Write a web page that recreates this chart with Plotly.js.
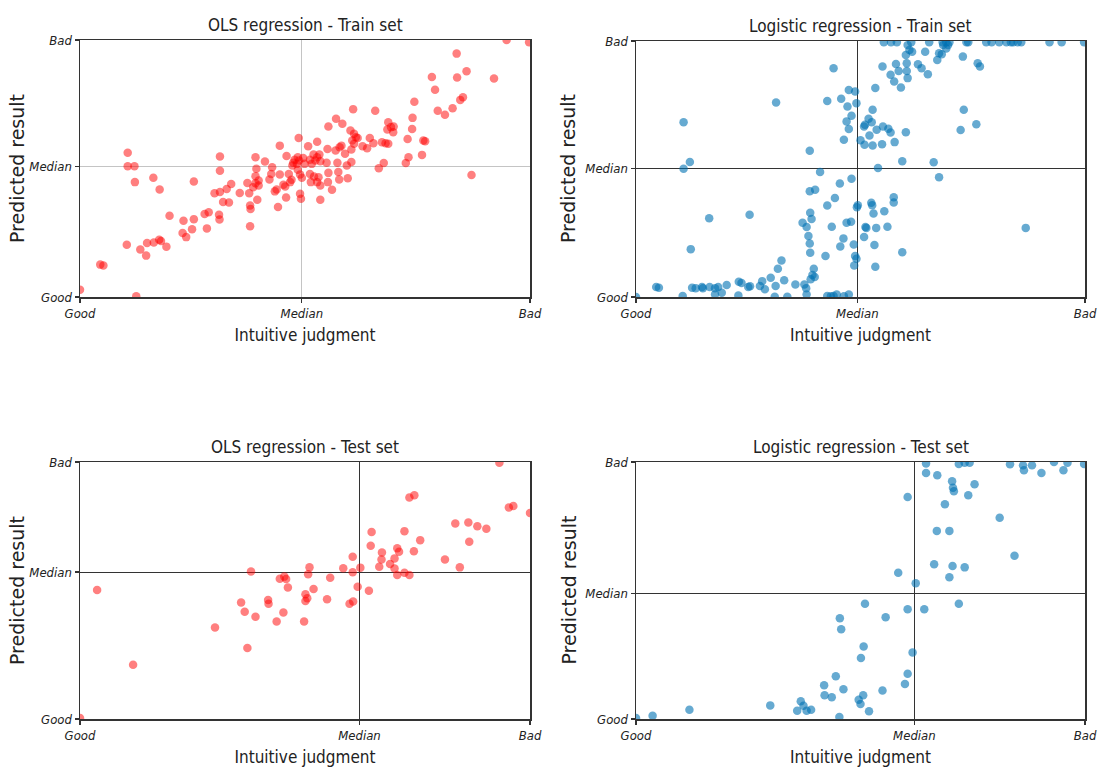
<!DOCTYPE html>
<html>
<head>
<meta charset="utf-8">
<script src="https://cdn.plot.ly/plotly-3.0.1.min.js"></script>
<style>html,body{margin:0;padding:0;background:#fff;}#chart{width:1099px;height:767px;}</style>
</head>
<body>
<div id="chart"></div>
<script>
// Scores on a 0 (Good) .. 100 (Bad) scale; medians per panel
const tickLabels = ['Good', 'Median', 'Bad'];
const panelTitles = ['OLS regression - Train set', 'Logistic regression - Train set', 'OLS regression - Test set', 'Logistic regression - Test set'];
const xTitle = 'Intuitive judgment';
const yTitle = 'Predicted result';
const medianX = [49.3, 49.3, 62.1, 62.0];
const medianY = [50.8, 50.3, 57.2, 48.9];

// OLS regression - Train set
const olsTrainX = [0, 4.5, 5.2, 12.5, 10.6, 10.6, 12.1, 12.2, 16.3, 17.7, 10.4, 13.4, 14.7, 14.9, 16.4, 17.6, 18.0, 19.2, 19.9, 22.8, 23.6, 23.0, 24.9, 25.3, 25.3, 27.7, 28.6, 28.2, 30.9, 31.0, 29.9, 31.1, 31.8, 33.1, 31.1, 31.1, 32.6, 33.6, 35.5, 37.2, 37.6, 37.8, 37.9, 37.8, 38.5, 39.0, 39.0, 39.2, 39.7, 39.7, 39.0, 39.4, 41.1, 42.1, 42.5, 42.7, 43.3, 43.7, 44.4, 44.4, 44.0, 45.2, 45.6, 45.8, 45.9, 46.4, 46.7, 47.0, 47.4, 47.7, 48.2, 48.4, 48.7, 47.2, 48.6, 48.4, 48.9, 49.3, 48.9, 49.1, 49.6, 49.9, 50.7, 51.1, 51.5, 51.9, 52.3, 52.7, 53.2, 53.4, 51.1, 51.3, 52.0, 52.7, 53.0, 53.4, 52.7, 53.4, 55.0, 54.8, 55.2, 55.1, 55.2, 56.0, 56.9, 56.8, 57.2, 57.4, 57.6, 57.7, 58.1, 58.9, 58.3, 59.3, 59.5, 60.1, 60.5, 60.3, 60.3, 60.9, 61.3, 61.7, 60.9, 60.7, 62.8, 63.8, 64.4, 65.2, 65.6, 66.4, 67.5, 67.1, 67.9, 68.5, 68.5, 68.3, 69.1, 69.6, 69.7, 72.4, 72.8, 73.0, 73.8, 73.9, 74.3, 76.0, 76.3, 76.7, 78.2, 78.9, 79.5, 81.1, 82.8, 83.7, 83.8, 84.5, 85.1, 85.9, 87.0, 92.0, 94.8, 99.8];
const olsTrainY = [2.8, 12.6, 12.3, 0.3, 56.1, 50.9, 50.9, 44.7, 46.4, 41.8, 20.3, 18.5, 16.1, 21.0, 21.2, 22.3, 21.8, 19.6, 31.6, 24.9, 23.3, 29.7, 26.4, 30.3, 44.9, 32.3, 33.0, 26.7, 32.0, 30.2, 40.4, 40.9, 37.0, 36.8, 54.7, 49.1, 42.0, 44.0, 40.5, 44.4, 40.4, 35.6, 34.2, 27.5, 42.7, 44.3, 47.0, 49.9, 45.3, 43.4, 54.4, 37.8, 52.7, 45.7, 47.9, 50.5, 41.1, 41.8, 58.9, 47.7, 35.0, 43.7, 43.0, 38.7, 54.9, 47.9, 44.7, 45.6, 52.2, 53.4, 51.8, 54.4, 53.1, 51.2, 61.9, 49.5, 47.7, 46.4, 40.2, 38.2, 54.1, 51.8, 58.7, 53.4, 51.8, 55.4, 53.1, 54.4, 55.4, 52.8, 47.9, 44.7, 46.9, 44.7, 46.6, 43.4, 60.4, 37.8, 57.6, 52.2, 48.3, 44.7, 66.3, 41.7, 69.4, 57.0, 52.2, 48.6, 45.7, 58.3, 58.9, 55.7, 67.4, 51.2, 46.2, 64.8, 60.9, 57.4, 52.5, 63.5, 62.2, 61.9, 59.6, 73.1, 58.7, 57.9, 61.9, 59.8, 72.5, 50.1, 52.1, 60.2, 59.8, 59.6, 68.0, 65.2, 66.1, 64.1, 66.3, 52.1, 61.5, 54.4, 65.4, 69.7, 76.0, 55.3, 60.9, 60.6, 85.6, 80.6, 72.5, 70.9, 73.4, 94.7, 85.4, 76.7, 77.7, 87.8, 47.5, 85.0, 100, 99.1];

// Logistic regression - Train set
const logTrainX = [0, 10.4, 17.6, 19.1, 22.8, 30.9, 33.7, 38.0, 42.6, 43.4, 44.0, 44.7, 46.3, 47.4,
  4.5, 5.1, 12.5, 13.3, 14.7, 14.9, 16.4, 17.6, 18.3, 20.2, 22.9, 23.5, 25.0, 25.4, 27.6, 28.1, 28.7, 30.0, 31.1, 31.6, 32.4, 33.0, 35.5, 37.5, 37.9, 38.9, 39.3, 39.6, 39.8,
  10.6, 10.6, 12.0, 12.2, 16.3, 25.3, 31.2,
  37.1, 38.0, 38.4, 38.7, 38.8, 38.8, 39.1, 38.7, 38.7, 39.9, 41.0, 42.2, 42.6, 43.6, 44.3, 45.4, 46.2, 45.5, 46.9, 48.0, 47.9, 48.5, 48.8, 48.6, 49.1, 49.2, 49.4, 50.8, 51.1, 51.3, 52.4, 52.6, 52.9, 53.1, 53.3, 53.5, 55.3, 56.0, 57.4, 57.4, 59.3, 86.8,
  42.6, 44.0, 45.7, 47.4, 47.1, 46.3, 46.9, 47.4, 48.0, 48.8, 49.1, 50.0, 50.8, 51.0, 50.9, 51.8, 52.0, 52.5, 52.7, 52.7, 53.3, 53.9, 53.6, 54.8, 55.0, 56.2, 56.7, 57.6, 59.3, 60.1, 66.3, 67.5, 72.3, 73.0, 75.8,
  54.9, 56.7, 57.5, 57.9, 58.5, 59.0, 60.5, 60.3, 60.3, 60.1, 60.9, 61.5, 60.5, 62.8, 63.6, 64.4, 65.0, 67.1, 67.5, 68.1, 68.4, 69.1, 69.5, 72.8, 76.1, 76.6,
  55.2, 56.8, 58.1, 61.3, 65.3, 68.3, 69.1, 69.8, 73.6, 74.0, 78.0, 79.2, 80.9, 82.5, 83.5, 84.0, 85.0, 85.8, 92.1, 94.8, 99.8];
const logTrainY = [0, 0.4, 1.0, 1.7, 0.6, 0.1, 0.1, 1.0, 0.4, 0.3, 0.4, 1.0, 0.3, 1.0,
  3.9, 3.6, 3.6, 3.4, 3.9, 3.4, 3.9, 3.4, 3.9, 4.7, 6.0, 5.5, 3.9, 4.2, 4.3, 6.2, 3.0, 7.5, 4.3, 11.0, 14.3, 6.5, 4.9, 4.9, 3.4, 6.9, 8.6, 11.0, 7.8,
  68.3, 50.1, 52.7, 18.7, 30.8, 32.1, 76.0,
  29.0, 27.3, 23.8, 20.9, 17.3, 32.9, 30.5, 57.1, 41.3, 41.9, 48.8, 16.0, 35.7, 27.4, 38.7, 44.3, 22.9, 19.7, 29.0, 46.2, 29.4, 20.5, 16.0, 12.3, 14.9, 35.1, 35.8, 23.4, 27.3, 27.0, 36.8, 35.8, 32.6, 20.3, 11.8, 27.0, 33.5, 27.4, 39.0, 36.9, 17.5, 27.0,
  76.6, 89.4, 77.4, 80.9, 74.4, 61.4, 68.6, 65.6, 70.8, 80.3, 75.7, 61.2, 66.6, 67.3, 59.5, 69.6, 63.1, 68.3, 73.1, 59.2, 81.6, 50.4, 65.3, 59.7, 66.6, 65.7, 64.3, 60.5, 53.0, 64.4, 52.6, 46.8, 65.2, 73.1, 67.5,
  90.0, 86.8, 84.2, 91.0, 88.3, 81.8, 85.5, 88.3, 91.3, 94.5, 96.5, 95.8, 98.4, 90.9, 89.4, 95.8, 87.0, 92.6, 95.2, 94.8, 98.4, 97.1, 98.4, 93.9, 91.3, 90.0,
  99.5, 99.5, 99.5, 99.5, 99.5, 99.5, 99.5, 99.5, 99.5, 99.5, 99.5, 99.5, 99.5, 99.5, 99.5, 99.5, 99.5, 99.5, 99.5, 99.5, 99.5];

// OLS regression - Test set
const olsTestX = [0, 3.8, 11.8, 30.0, 35.8, 36.6, 37.2, 38.0, 39.0, 41.8, 41.9, 43.7, 44.4, 45.4, 45.8, 46.2, 45.2, 49.8, 50.1, 50.1, 50.5, 50.7, 51.0, 51.9, 54.9, 55.6, 58.5, 59.9, 60.6, 60.6, 60.7, 61.7, 62.3, 64.2, 64.8, 64.6, 66.5, 67.0, 67.1, 68.9, 69.9, 69.9, 70.5, 70.9, 70.5, 72.1, 72.1, 73.2, 74.3, 73.2, 74.2, 75.6, 81.1, 83.4, 84.4, 86.3, 86.5, 88.3, 90.3, 93.2, 95.3, 96.3, 100];
const olsTestY = [0.4, 50.2, 21.1, 35.6, 45.3, 41.7, 27.6, 57.4, 39.8, 46.3, 44.8, 37.9, 54.6, 55.4, 54.5, 51.2, 41.4, 37.9, 48.5, 45.9, 47.0, 56.3, 59.0, 50.6, 46.6, 55.0, 58.7, 44.8, 63.1, 57.1, 45.7, 51.5, 58.9, 49.9, 72.8, 67.4, 59.2, 62.1, 64.8, 60.3, 62.5, 58.6, 66.4, 65.1, 56.0, 73.1, 56.9, 86.2, 87.1, 56.0, 65.3, 69.6, 62.1, 76.1, 59.0, 76.5, 69.0, 75.0, 74.0, 99.7, 82.3, 82.9, 80.2];

// Logistic regression - Test set
const logTestX = [0, 3.7, 11.9, 29.9, 35.9, 36.7, 37.3, 38.0, 39.0, 41.9, 42.0, 43.6, 44.5, 45.3, 45.4, 45.7, 46.2, 49.6, 50.0, 50.1, 50.6, 50.7, 51.0, 51.9, 54.9, 55.6, 58.4, 59.9, 60.5, 60.5, 60.5, 61.6, 62.3, 64.2, 64.6, 64.6, 66.4, 67.0, 67.1, 68.8, 69.8, 69.8, 70.4, 70.5, 70.6, 70.8, 71.9, 71.9, 73.2, 73.2, 74.0, 74.3, 75.4, 81.0, 83.3, 84.3, 86.2, 86.4, 88.2, 90.3, 93.1, 95.2, 96.1, 99.8];
const logTestY = [0.4, 1.3, 3.6, 5.3, 3.2, 6.9, 5.2, 3.2, 3.6, 13.1, 9.2, 8.5, 16.6, 0.8, 39.2, 34.9, 11.6, 7.5, 5.8, 23.7, 9.2, 28.2, 44.8, 3.0, 11.1, 39.6, 56.9, 13.6, 17.6, 86.4, 42.7, 25.9, 52.8, 42.7, 99.4, 95.7, 60.2, 73.2, 94.8, 83.6, 73.2, 55.2, 92.5, 59.5, 90.0, 88.6, 99.2, 44.8, 59.0, 99.7, 87.1, 99.7, 91.3, 78.3, 99.1, 63.5, 98.7, 96.8, 98.7, 95.7, 100, 96.8, 99.7, 99.2];

const seriesX = [olsTrainX, logTrainX, olsTestX, logTestX];
const seriesY = [olsTrainY, logTrainY, olsTestY, logTestY];
const markerColors = ['rgba(255,0,0,0.5)', 'rgba(0,114,178,0.6)', 'rgba(255,0,0,0.5)', 'rgba(0,114,178,0.6)'];
const gridColors = ['#c4c4c4', '#333333', '#333333', '#333333'];

const W = 1099, H = 767;
// plot areas in pixels [left, right, top, bottom]
const boxes = [[80, 530, 40, 297], [636, 1085, 41, 297], [80, 530, 462, 719], [636, 1085, 462, 719]];
const yTitleCenters = [16.5, 568, 16.5, 568];

const condensed = '"DejaVu Sans Condensed", "DejaVu Sans", sans-serif';
const traces = [];
const layout = {
  width: W, height: H,
  margin: {l: 0, r: 0, t: 0, b: 0},
  paper_bgcolor: '#fff', plot_bgcolor: '#fff',
  showlegend: false,
  font: {family: condensed, color: '#222'},
  annotations: []
};

for (let i = 0; i < 4; i++) {
  const sfx = i === 0 ? '' : String(i + 1);
  traces.push({
    type: 'scatter', mode: 'markers',
    x: seriesX[i], y: seriesY[i],
    xaxis: 'x' + sfx, yaxis: 'y' + sfx,
    marker: {size: 8.5, color: markerColors[i], line: {width: 0}},
    cliponaxis: true, hoverinfo: 'skip'
  });
  const b = boxes[i];
  const common = {
    range: [0, 100], tickmode: 'array', ticktext: tickLabels,
    showgrid: true, gridcolor: gridColors[i], gridwidth: 1,
    zeroline: false, showline: true, mirror: true, linecolor: '#333', linewidth: 1.5,
    ticks: 'outside', ticklen: 4, tickwidth: 1.2, tickcolor: '#333',
    tickfont: {family: condensed, size: 13, style: 'italic', color: '#222'},
    fixedrange: true
  };
  layout['xaxis' + sfx] = Object.assign({}, common, {
    domain: [b[0] / W, b[1] / W],
    anchor: 'y' + sfx,
    tickvals: [0, medianX[i], 100],
    title: {text: xTitle, font: {family: condensed, size: 17, color: '#222'}, standoff: 9}
  });
  layout['yaxis' + sfx] = Object.assign({}, common, {
    domain: [(H - b[3]) / H, (H - b[2]) / H],
    anchor: 'x' + sfx,
    tickvals: [0, medianY[i], 100]
  });
  layout.annotations.push({
    text: panelTitles[i], xref: 'paper', yref: 'paper',
    x: (b[0] + b[1]) / 2 / W, y: (H - b[2] + 3) / H,
    xanchor: 'center', yanchor: 'bottom', showarrow: false,
    font: {family: condensed, size: 17, color: '#222'}
  });
  layout.annotations.push({
    text: yTitle, xref: 'paper', yref: 'paper', textangle: -90,
    x: yTitleCenters[i] / W, y: (H - (b[2] + b[3]) / 2) / H,
    xanchor: 'center', yanchor: 'middle', showarrow: false,
    font: {family: '"DejaVu Sans", sans-serif', size: 19, color: '#222'}
  });
}

Plotly.newPlot('chart', traces, layout, {staticPlot: true});
</script>
</body>
</html>
